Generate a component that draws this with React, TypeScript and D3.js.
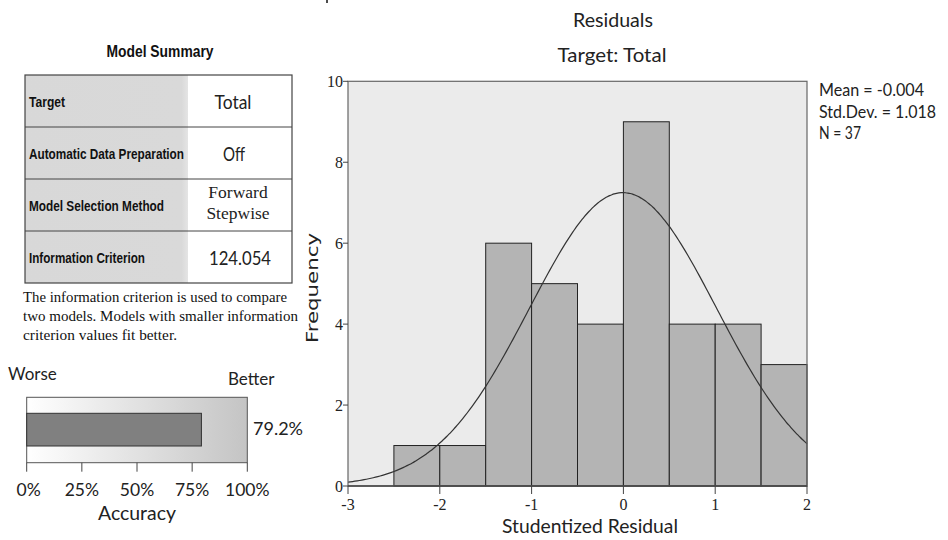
import React from "react";
import * as d3 from "d3";

const binStarts = [-2.5, -2.0, -1.5, -1.0, -0.5, 0.0, 0.5, 1.0, 1.5];
const binCounts = [1, 1, 6, 5, 4, 9, 4, 4, 3];
const binWidth = 0.5;
const meanVal = -0.004;
const sdVal = 1.018;
const nVal = 37;
const xTicks = [-3, -2, -1, 0, 1, 2];
const yTicks = [0, 2, 4, 6, 8, 10];
const statLines = ["Mean = -0.004", "Std.Dev. = 1.018", "N = 37"];

const tableLabels = ["Target", "Automatic Data Preparation", "Model Selection Method", "Information Criterion"];
const tableValues = [["Total"], ["Off"], ["Forward", "Stepwise"], ["124.054"]];
const descLines = [
  "The information criterion is used to compare",
  "two models. Models with smaller information",
  "criterion values fit better.",
];
const accuracy = 79.2;
const accTicks = [0, 25, 50, 75, 100];

// layout (not data)
const labelWidths = [36, 155, 135, 116];
const valueWidths = [37, 22, 0, 62];
const valueCenters = [233, 234, 238, 240];
const descWidths = [264, 275, 154];
const statWidths = [105, 117, 42];

export default function App() {
  const W = 948, H = 540;
  const x = d3.scaleLinear().domain([-3, 2]).range([348, 807]);
  const y = d3.scaleLinear().domain([0, 10]).range([486, 81.3]);
  const pdf = (v: number) =>
    (nVal * binWidth) / (sdVal * Math.sqrt(2 * Math.PI)) *
    Math.exp(-0.5 * Math.pow((v - meanVal) / sdVal, 2));
  const curvePts = d3.range(0, 201).map((i) => -3 + (5 * i) / 200);
  const line = d3.line<number>().x((d) => x(d)).y((d) => y(pdf(d))).curve(d3.curveBasis);

  const acc = d3.scaleLinear().domain([0, 100]).range([26.7, 247.3]);

  const sans = "Lato, 'Open Sans', sans-serif";
  const serif = "'Liberation Serif', 'Times New Roman', serif";
  const narrow = "'Liberation Sans', Arial, sans-serif";

  const tTop = 75, tBottom = 283, tLeft = 25, tRight = 292, tMid = 188;
  const rowH = (tBottom - tTop) / 4;

  return (
    <svg width={W} height={H} style={{ position: "absolute", left: 0, top: 0, background: "#fff" }}>
      <defs>
        <linearGradient id="accGrad" x1="0" x2="1" y1="0" y2="0">
          <stop offset="0" stopColor="#ffffff" />
          <stop offset="1" stopColor="#c4c4c4" />
        </linearGradient>
        <linearGradient id="cellGrad" x1="0" x2="1" y1="0" y2="0">
          <stop offset="0" stopColor="#d8d8d8" />
          <stop offset="0.96" stopColor="#d9d9d9" />
          <stop offset="1" stopColor="#e4e4e4" />
        </linearGradient>
      </defs>

      {/* fragment of a cut-off glyph at the top edge */}
      <line x1={327} x2={327} y1={0} y2={3} stroke="#111" strokeWidth={1.5} />

      {/* ===== Left panel: Model summary ===== */}
      <text x={160} y={57} textAnchor="middle" fontFamily={narrow} fontWeight="bold" fontSize={17}
        textLength={107} lengthAdjust="spacingAndGlyphs" fill="#111">Model Summary</text>

      <rect x={tLeft} y={tTop} width={tMid - tLeft} height={tBottom - tTop} fill="url(#cellGrad)" />
      <rect x={tMid} y={tTop} width={tRight - tMid} height={tBottom - tTop} fill="#fff" />
      {tableLabels.map((lab, i) => {
        const rowTop = tTop + i * rowH;
        const vals = tableValues[i];
        return (
          <g key={lab}>
            {i > 0 && <line x1={tLeft} x2={tRight} y1={rowTop} y2={rowTop} stroke="#444" strokeWidth={1} />}
            <text x={29} y={rowTop + rowH / 2 + 6} fontFamily={narrow} fontWeight="bold" fontSize={14.5}
              textLength={labelWidths[i]} lengthAdjust="spacingAndGlyphs" fill="#111">{lab}</text>
            {vals.length === 1 ? (
              <text x={valueCenters[i]} y={rowTop + rowH / 2 + 8} textAnchor="middle"
                fontFamily={sans} fontSize={20} fill="#222"
                textLength={valueWidths[i]} lengthAdjust="spacingAndGlyphs">{vals[0]}</text>
            ) : (
              vals.map((v, j) => (
                <text key={v} x={valueCenters[i]} y={rowTop + 19 + j * 21} textAnchor="middle"
                  fontFamily={serif} fontSize={17.5} fill="#222">{v}</text>
              ))
            )}
          </g>
        );
      })}
      <rect x={tLeft} y={tTop} width={tRight - tLeft} height={tBottom - tTop} fill="none" stroke="#444" strokeWidth={1.2} />

      {descLines.map((l, i) => (
        <text key={i} x={23} y={302 + i * 19} fontFamily={serif} fontSize={15.5} fill="#111"
          textLength={descWidths[i]} lengthAdjust="spacingAndGlyphs">{l}</text>
      ))}

      {/* Accuracy gauge */}
      <text x={8} y={380} fontFamily={sans} fontSize={17} fill="#222">Worse</text>
      <text x={228} y={385} fontFamily={sans} fontSize={17} fill="#222">Better</text>
      <rect x={acc(0)} y={397.3} width={acc(100) - acc(0)} height={65.4} fill="url(#accGrad)" stroke="#555" strokeWidth={1} />
      <rect x={acc(0)} y={413.3} width={acc(accuracy) - acc(0)} height={32.7} fill="#808080" stroke="#333" strokeWidth={1} />
      <text x={253} y={435} fontFamily={sans} fontSize={18} fill="#222">{accuracy.toFixed(1)}%</text>
      {accTicks.map((t) => (
        <g key={t}>
          <line x1={acc(t)} x2={acc(t)} y1={462.7} y2={471.7} stroke="#444" strokeWidth={1} />
          <text x={acc(t) + (t === 0 ? 2 : 0)} y={496} textAnchor="middle" fontFamily={sans} fontSize={17.5} fill="#222">{t}%</text>
        </g>
      ))}
      <text x={137} y={520} textAnchor="middle" fontFamily={sans} fontSize={20} fill="#222"
        textLength={78} lengthAdjust="spacingAndGlyphs">Accuracy</text>

      {/* ===== Right panel: histogram ===== */}
      <text x={613} y={27} textAnchor="middle" fontFamily={sans} fontSize={19} fill="#222"
        textLength={80} lengthAdjust="spacingAndGlyphs">Residuals</text>
      <text x={612} y={62} textAnchor="middle" fontFamily={sans} fontSize={19} fill="#222"
        textLength={109} lengthAdjust="spacingAndGlyphs">Target: Total</text>

      <rect x={x(-3)} y={y(10)} width={x(2) - x(-3)} height={y(0) - y(10)} fill="#ebebeb" />
      {binStarts.map((b, i) => (
        <rect key={b} x={x(b)} y={y(binCounts[i])} width={x(b + binWidth) - x(b)} height={y(0) - y(binCounts[i])}
          fill="#b4b4b4" stroke="#222" strokeWidth={1} />
      ))}
      <path d={line(curvePts) || ""} fill="none" stroke="#333" strokeWidth={1.2} />
      <rect x={x(-3)} y={y(10)} width={x(2) - x(-3)} height={y(0) - y(10)} fill="none" stroke="#666" strokeWidth={1.2} />
      <line x1={x(-3)} x2={x(2)} y1={y(0)} y2={y(0)} stroke="#444" strokeWidth={1.6} />

      {yTicks.map((t) => (
        <g key={t}>
          <line x1={x(-3) - 5} x2={x(-3)} y1={y(t)} y2={y(t)} stroke="#444" strokeWidth={1} />
          <text x={x(-3) - 5} y={y(t) + 5.5} textAnchor="end" fontFamily={serif} fontSize={16} fill="#222">{t}</text>
        </g>
      ))}
      {xTicks.map((t) => (
        <g key={t}>
          <line x1={x(t)} x2={x(t)} y1={y(0)} y2={y(0) + 8} stroke="#444" strokeWidth={1} />
          <text x={x(t)} y={510} textAnchor="middle" fontFamily={serif} fontSize={16} fill="#222">{t}</text>
        </g>
      ))}

      <text transform="translate(318,288) rotate(-90)" textAnchor="middle" fontFamily="'DejaVu Sans', Verdana, sans-serif"
        fontSize={16.5} fill="#222" textLength={110} lengthAdjust="spacingAndGlyphs">Frequency</text>
      <text x={590} y={533} textAnchor="middle" fontFamily={sans} fontSize={20} fill="#222"
        textLength={176} lengthAdjust="spacingAndGlyphs">Studentized Residual</text>

      {statLines.map((s, i) => (
        <text key={s} x={819} y={96 + i * 21.5} fontFamily={sans} fontSize={16.5} fill="#222"
          textLength={statWidths[i]} lengthAdjust="spacingAndGlyphs">{s}</text>
      ))}
    </svg>
  );
}
